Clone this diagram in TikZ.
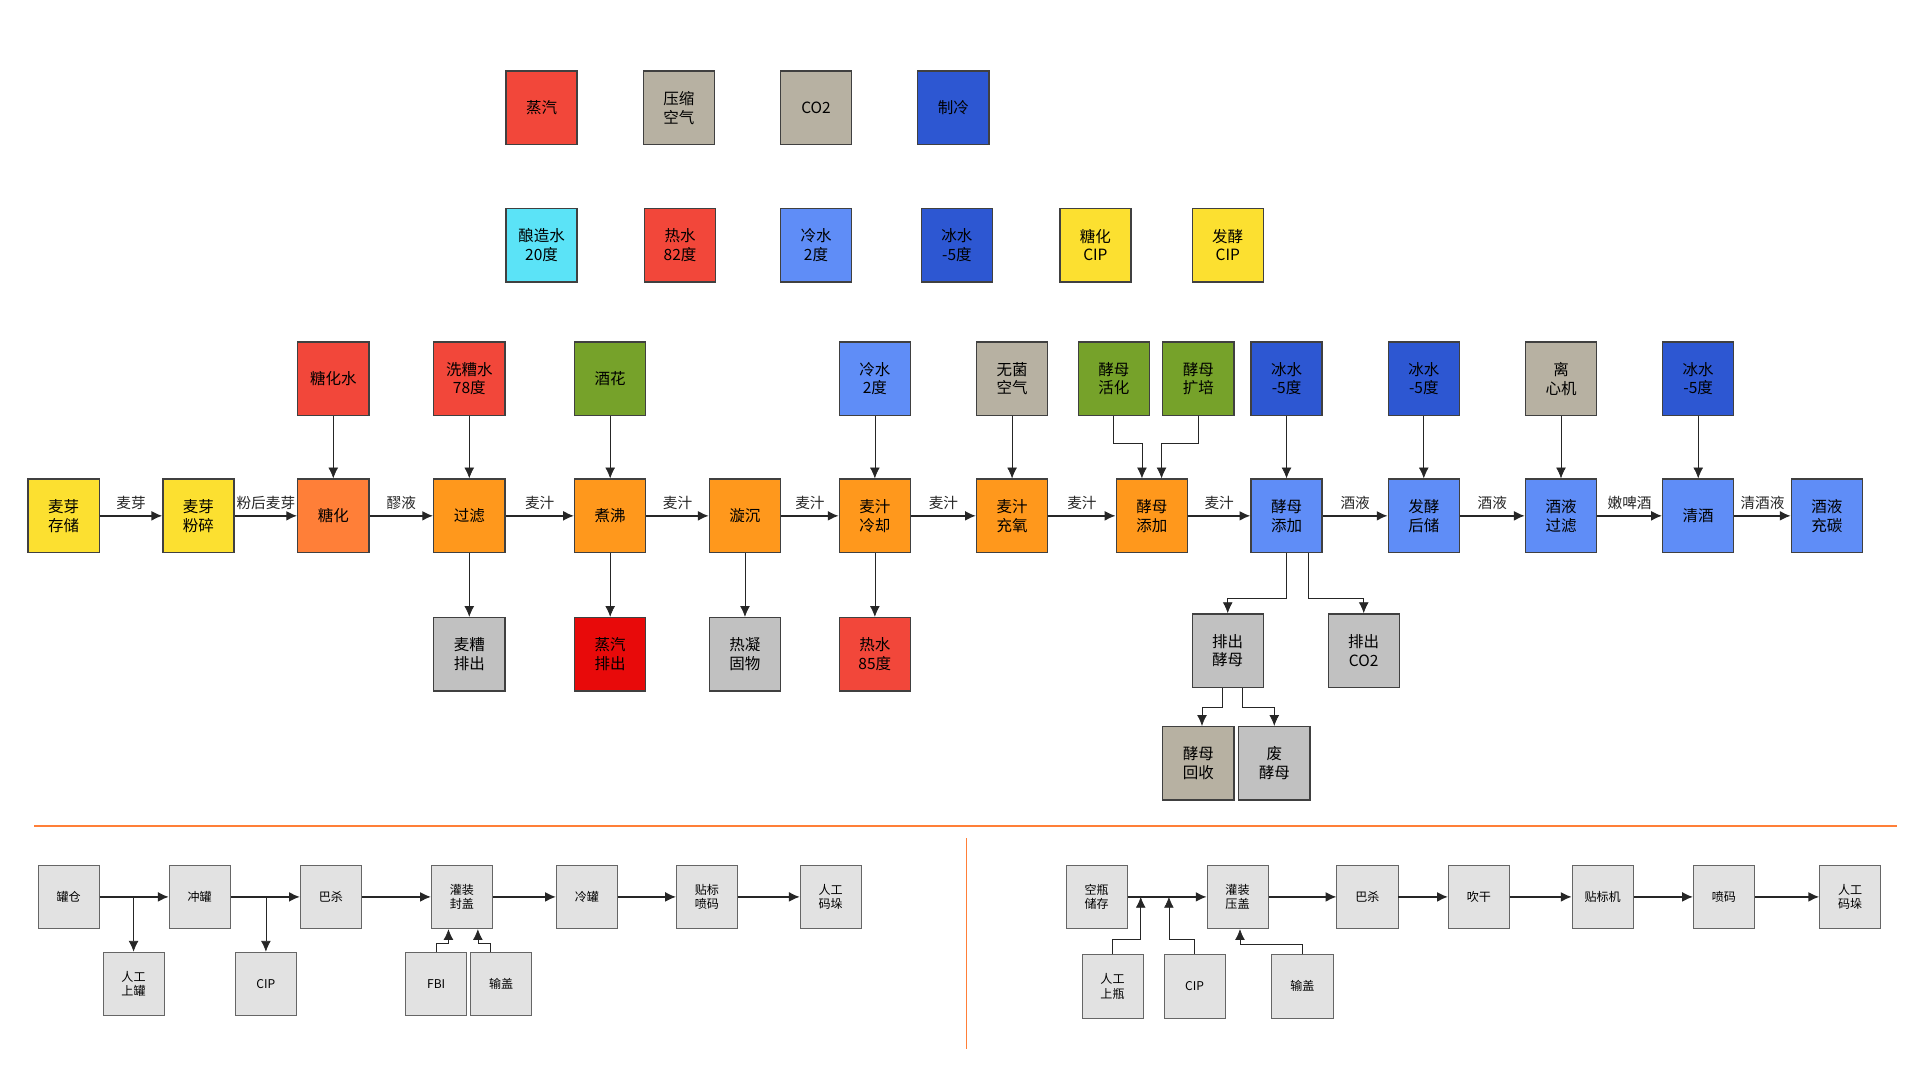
\documentclass[tikz,border=0pt]{standalone}
\usepackage{fontspec}
\setmainfont{Noto Sans CJK SC}
\usetikzlibrary{arrows.meta}
\tikzset{>={Latex[length=2.2mm,width=2mm]}}
\definecolor{cRed}{HTML}{F2473A}
\definecolor{cDeep}{HTML}{E80A0A}
\definecolor{cBeige}{HTML}{B7B1A2}
\definecolor{cBlue}{HTML}{2D57D2}
\definecolor{cLight}{HTML}{5F8DF7}
\definecolor{cCyan}{HTML}{5BE3F7}
\definecolor{cYel}{HTML}{FCE030}
\definecolor{cOrg}{HTML}{FF7F38}
\definecolor{cAmb}{HTML}{FF981C}
\definecolor{cGreen}{HTML}{76A22A}
\definecolor{cGray}{HTML}{C1C1C1}
\definecolor{cPale}{HTML}{E2E2E2}
\definecolor{cLine}{HTML}{FF7F38}
\tikzset{
  box/.style={rectangle,draw=black!75,thick,minimum width=1.45cm,minimum height=1.5cm,
    align=center,font=\fontsize{9}{11}\selectfont,inner sep=1pt},
  sbox/.style={rectangle,draw=black!60,fill=cPale,minimum width=1.25cm,minimum height=1.3cm,
    align=center,font=\fontsize{7}{8.5}\selectfont,inner sep=1pt},
  lab/.style={above,font=\fontsize{8.5}{10}\selectfont},
  flow/.style={->,thick,black!85},
  feed/.style={->,black!85},
}
\begin{document}
\begin{tikzpicture}[x=0.025cm,y=-0.025cm]
  \useasboundingbox (0,0) rectangle (1567,876);
  % utilities
  \node at (442,88) [box,fill=cRed] (steam) {蒸汽};
  \node at (554,88) [box,fill=cBeige] (air) {压缩\\空气};
  \node at (666,88) [box,fill=cBeige] (co2) {CO2};
  \node at (778,88) [box,fill=cBlue] (cool) {制冷};
  \node at (442,200) [box,fill=cCyan] (brew) {酿造水\\20度};
  \node at (555,200) [box,fill=cRed] (hot) {热水\\82度};
  \node at (666,200) [box,fill=cLight] (cold) {冷水\\2度};
  \node at (781,200) [box,fill=cBlue] (ice) {冰水\\-5度};
  \node at (894,200) [box,fill=cYel] (cipa) {糖化\\CIP};
  \node at (1002,200) [box,fill=cYel] (cipb) {发酵\\CIP};
  % feeds
  \node at (272,309) [box,fill=cRed] (mw) {糖化水};
  \node at (383,309) [box,fill=cRed] (sw) {洗糟水\\78度};
  \node at (498,309) [box,fill=cGreen] (hop) {酒花};
  \node at (714,309) [box,fill=cLight] (cw) {冷水\\2度};
  \node at (826,309) [box,fill=cBeige] (sa) {无菌\\空气};
  \node at (909,309) [box,fill=cGreen] (ya) {酵母\\活化};
  \node at (978,309) [box,fill=cGreen] (yb) {酵母\\扩培};
  \node at (1050,309) [box,fill=cBlue] (ia) {冰水\\-5度};
  \node at (1162,309) [box,fill=cBlue] (ib) {冰水\\-5度};
  \node at (1274,309) [box,fill=cBeige] (cf) {离\\心机};
  \node at (1386,309) [box,fill=cBlue] (ic) {冰水\\-5度};
  % main line
  \node at (52,421) [box,fill=cYel] (store) {麦芽\\存储};
  \node at (162,421) [box,fill=cYel] (mill) {麦芽\\粉碎};
  \node at (272,421) [box,fill=cOrg] (mash) {糖化};
  \node at (383,421) [box,fill=cAmb] (lau) {过滤};
  \node at (498,421) [box,fill=cAmb] (boil) {煮沸};
  \node at (608,421) [box,fill=cAmb] (whirl) {漩沉};
  \node at (714,421) [box,fill=cAmb] (chill) {麦汁\\冷却};
  \node at (826,421) [box,fill=cAmb] (oxy) {麦汁\\充氧};
  \node at (940,421) [box,fill=cAmb] (pitch) {酵母\\添加};
  \node at (1050,421) [box,fill=cLight] (ferm) {酵母\\添加};
  \node at (1162,421) [box,fill=cLight] (lager) {发酵\\后储};
  \node at (1274,421) [box,fill=cLight] (filt) {酒液\\过滤};
  \node at (1386,421) [box,fill=cLight] (bright) {清酒};
  \node at (1491,421) [box,fill=cLight] (carb) {酒液\\充碳};
  % outputs
  \node at (383,534) [box,fill=cGray] (grain) {麦糟\\排出};
  \node at (498,534) [box,fill=cDeep] (vent) {蒸汽\\排出};
  \node at (608,534) [box,fill=cGray] (trub) {热凝\\固物};
  \node at (714,534) [box,fill=cRed] (hw) {热水\\85度};
  \node at (1002,531) [box,fill=cGray] (yout) {排出\\酵母};
  \node at (1113,531) [box,fill=cGray] (cout) {排出\\CO2};
  \node at (978,623) [box,fill=cBeige] (yrec) {酵母\\回收};
  \node at (1040,623) [box,fill=cGray] (ywaste) {废\\酵母};
  \draw [flow] (store) to node[lab] {麦芽} (mill);
  \draw [flow] (mill) to node[lab] {粉后麦芽} (mash);
  \draw [flow] (mash) to node[lab] {醪液} (lau);
  \draw [flow] (lau) to node[lab] {麦汁} (boil);
  \draw [flow] (boil) to node[lab] {麦汁} (whirl);
  \draw [flow] (whirl) to node[lab] {麦汁} (chill);
  \draw [flow] (chill) to node[lab] {麦汁} (oxy);
  \draw [flow] (oxy) to node[lab] {麦汁} (pitch);
  \draw [flow] (pitch) to node[lab] {麦汁} (ferm);
  \draw [flow] (ferm) to node[lab] {酒液} (lager);
  \draw [flow] (lager) to node[lab] {酒液} (filt);
  \draw [flow] (filt) to node[lab] {嫩啤酒} (bright);
  \draw [flow] (bright) to node[lab] {清酒液} (carb);
  \foreach \a/\b in {mw/mash,sw/lau,hop/boil,cw/chill,sa/oxy,ia/ferm,ib/lager,cf/filt,ic/bright,
      lau/grain,boil/vent,whirl/trub,chill/hw}
    \draw [feed] (\a) -- (\b);
  \draw [feed] (ya.south) |- (932,362) -- (pitch.north -| 932,0);
  \draw [feed] (yb.south) |- (948,362) -- (pitch.north -| 948,0);
  \draw [feed] (ferm.south) |- (1002,488) -- (yout.north);
  \draw [feed] (ferm.south -| 1068,0) |- (1113,488) -- (cout.north);
  \draw [feed] (yout.south -| 998,0) |- (981,577) -- (yrec.north -| 981,0);
  \draw [feed] (yout.south -| 1014,0) |- (1040,577) -- (ywaste.north);
  % divider
  \draw [cLine,line width=1.2pt] (28,674) -- (1548,674);
  \draw [cLine,line width=0.8pt] (789,684) -- (789,856);
  % can line
  \node at (56,732) [sbox] (bin) {罐仓};
  \node at (163,732) [sbox] (rinse) {冲罐};
  \node at (270,732) [sbox] (pasa) {巴杀};
  \node at (377,732) [sbox] (fillc) {灌装\\封盖};
  \node at (479,732) [sbox] (coolc) {冷罐};
  \node at (577,732) [sbox] (label) {贴标\\喷码};
  \node at (678,732) [sbox] (palla) {人工\\码垛};
  \node at (109,803) [sbox] (mana) {人工\\上罐};
  \node at (217,803) [sbox] (cipc) {CIP};
  \node at (356,803) [sbox] (fbi) {FBI};
  \node at (409,803) [sbox] (lida) {输盖};
  \draw [flow] (bin) -- (rinse);
  \draw [flow] (rinse) -- (pasa);
  \draw [flow] (pasa) -- (fillc);
  \draw [flow] (fillc) -- (coolc);
  \draw [flow] (coolc) -- (label);
  \draw [flow] (label) -- (palla);
  \draw [feed] (109,732) -- (mana);
  \draw [feed] (217,732) -- (cipc);
  \draw [feed] (fbi.north) |- (366,770) -- (fillc.south -| 366,0);
  \draw [feed] (lida.north -| 400,0) |- (390,770) -- (fillc.south -| 390,0);
  % bottle line
  \node at (895,732) [sbox] (empty) {空瓶\\储存};
  \node at (1010,732) [sbox] (fillb) {灌装\\压盖};
  \node at (1116,732) [sbox] (pasb) {巴杀};
  \node at (1207,732) [sbox] (dry) {吹干};
  \node at (1308,732) [sbox] (labb) {贴标机};
  \node at (1407,732) [sbox] (code) {喷码};
  \node at (1510,732) [sbox] (pallb) {人工\\码垛};
  \node at (908,805) [sbox] (manb) {人工\\上瓶};
  \node at (975,805) [sbox] (cipd) {CIP};
  \node at (1063,805) [sbox] (lidb) {输盖};
  \draw [flow] (empty) -- (fillb);
  \draw [flow] (fillb) -- (pasb);
  \draw [flow] (pasb) -- (dry);
  \draw [flow] (dry) -- (labb);
  \draw [flow] (labb) -- (code);
  \draw [flow] (code) -- (pallb);
  \draw [feed] (manb.north) |- (931,767) -- (931,732);
  \draw [feed] (cipd.north) |- (954,767) -- (954,732);
  \draw [feed] (lidb.north) |- (1012,771) -- (fillb.south -| 1012,0);
\end{tikzpicture}
\end{document}
